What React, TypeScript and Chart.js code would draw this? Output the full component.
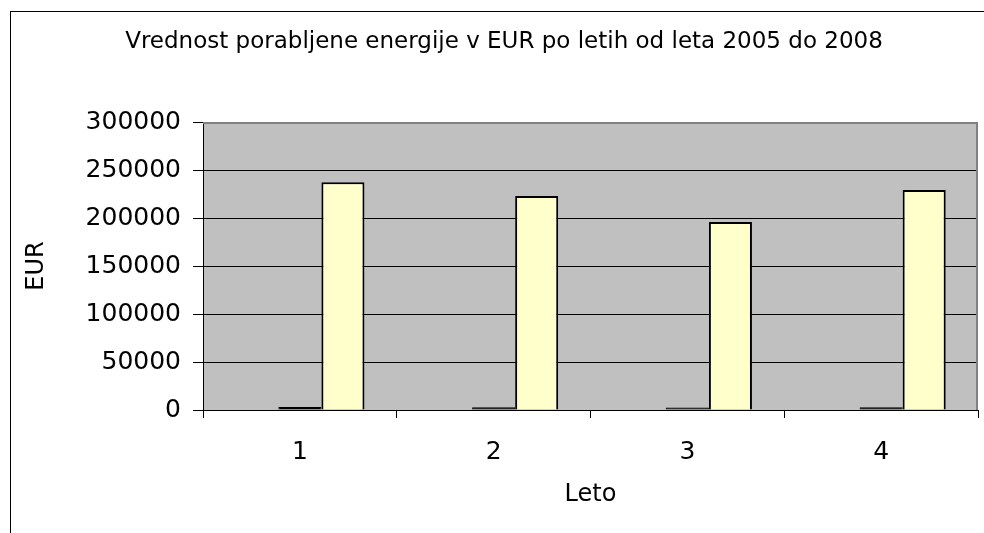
import React, { useEffect, useRef } from "react";
import { Chart, registerables } from "chart.js";

Chart.register(...registerables);

const titleText = "Vrednost porabljene energije v EUR po letih od leta 2005 do 2008";
const categories = ["1", "2", "3", "4"];
const seriesA = [0, 0, 0, 0];
const seriesB = [3000, 2900, 2700, 2900];
const seriesC = [237300, 222800, 195800, 229200];
const yTicks = [0, 50000, 100000, 150000, 200000, 250000, 300000];

const FONT = "'DejaVu Sans', sans-serif";

const framePlugin = {
  id: "framePlugin",
  beforeDraw(chart: any) {
    const { ctx, chartArea } = chart;
    ctx.save();
    ctx.fillStyle = "#ffffff";
    ctx.fillRect(0, 0, chart.width, chart.height);
    ctx.strokeStyle = "#000000";
    ctx.lineWidth = 1;
    ctx.strokeRect(10.5, 11.5, 1000, 600);
    ctx.fillStyle = "#C0C0C0";
    ctx.fillRect(chartArea.left, chartArea.top, chartArea.right - chartArea.left, chartArea.bottom - chartArea.top);
    ctx.fillStyle = "#000000";
    ctx.font = "23px " + FONT;
    ctx.textAlign = "center";
    ctx.textBaseline = "alphabetic";
    ctx.fillText(titleText, 504, 48);
    ctx.restore();
  },
  afterDraw(chart: any) {
    const { ctx, chartArea } = chart;
    ctx.save();
    ctx.strokeStyle = "#808080";
    ctx.lineWidth = 2;
    ctx.beginPath();
    ctx.moveTo(chartArea.left, chartArea.top + 1);
    ctx.lineTo(chartArea.right - 1, chartArea.top + 1);
    ctx.lineTo(chartArea.right - 1, chartArea.bottom);
    ctx.stroke();
    ctx.restore();
  },
};

export default function App() {
  const ref = useRef<HTMLCanvasElement | null>(null);
  useEffect(() => {
    if (!ref.current) return;
    const chart = new Chart(ref.current, {
      type: "bar",
      data: {
        labels: categories,
        datasets: [
          { label: "A", data: seriesA, backgroundColor: "#9999FF", borderWidth: 0 },
          { label: "B", data: seriesB, backgroundColor: "#000000", borderColor: "#000000", borderWidth: 1 },
          { label: "C", data: seriesC, backgroundColor: "#FFFFCC", borderColor: "#000000", borderWidth: 2 },
        ],
      },
      options: {
        responsive: false,
        animation: false,
        events: [],
        layout: { padding: { top: 122, left: 0, right: 6, bottom: 0 } },
        datasets: { bar: { categoryPercentage: 3 / 4.5, barPercentage: 1, borderSkipped: "bottom" } },
        plugins: { legend: { display: false }, title: { display: false }, tooltip: { enabled: false } },
        scales: {
          x: {
            offset: true,
            grid: { offset: true, drawOnChartArea: false, drawTicks: true, tickLength: 8, tickColor: "#000000", color: "#000000" },
            border: { display: true, color: "#000000", width: 1 },
            ticks: { color: "#000000", font: { family: FONT, size: 25 }, padding: 19 },
            title: { display: true, text: "Leto", color: "#000000", font: { family: FONT, size: 24 }, padding: { top: 0, bottom: 24 } },
            afterFit(scale: any) { scale.height = 123; },
          },
          y: {
            min: 0,
            max: 300000,
            afterBuildTicks(scale: any) { scale.ticks = yTicks.map((v) => ({ value: v })); },
            grid: {
              color: (c: any) => (c.tick && c.tick.value === 300000 ? "rgba(0,0,0,0)" : "#000000"),
              tickColor: "#000000",
              tickLength: 10,
              lineWidth: 1,
            },
            border: { display: true, color: "#000000", width: 1 },
            ticks: {
              color: "#000000",
              font: { family: FONT, size: 25 },
              padding: 12,
              callback: (v: any) => String(v),
            },
            title: { display: true, text: "EUR", color: "#000000", font: { family: FONT, size: 24 }, padding: { top: 22, bottom: 0 } },
            afterFit(scale: any) { scale.width = 203; },
          },
        },
      },
      plugins: [framePlugin],
    });
    return () => chart.destroy();
  }, []);
  return (
    <div style={{ position: "absolute", left: 0, top: 0, width: 984, height: 533 }}>
      <canvas ref={ref} width={984} height={533} style={{ display: "block" }} />
    </div>
  );
}
